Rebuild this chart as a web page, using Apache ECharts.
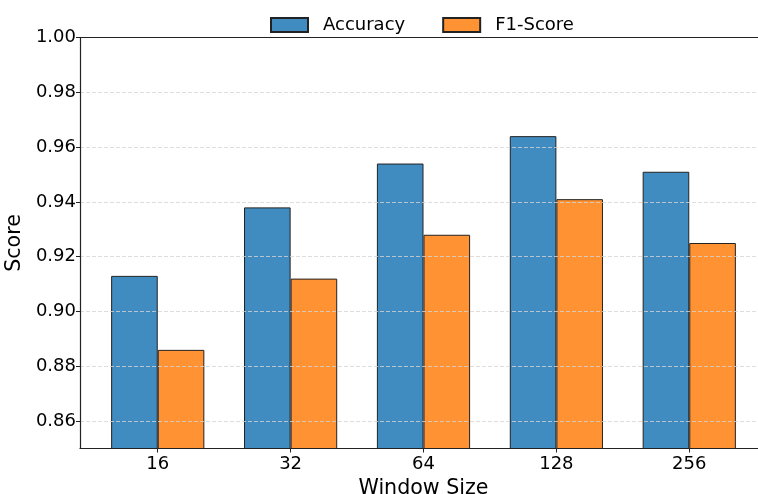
<!DOCTYPE html>
<html>
<head>
<meta charset="utf-8">
<script src="https://cdn.jsdelivr.net/npm/echarts@6/dist/echarts.min.js"></script>
<style>
  html, body { margin: 0; padding: 0; background: #fff; }
  #chart { width: 758px; height: 494px; }
</style>
</head>
<body>
<div id="chart"></div>
<script>
// window sizes on the x axis
const windowSizes = ['16', '32', '64', '128', '256']
const accuracy = [0.913, 0.938, 0.954, 0.964, 0.951]
const f1Score = [0.886, 0.912, 0.928, 0.941, 0.925]
const yTicks = [0.86, 0.88, 0.90, 0.92, 0.94, 0.96, 0.98, 1.00]
const xTicks = [0, 1, 2, 3, 4]

const font = 'DejaVu Sans'
const chart = echarts.init(document.getElementById('chart'), null, { renderer: 'canvas' })

const toPairs = arr => arr.map((v, i) => [i, v])

chart.setOption({
  backgroundColor: '#fff',
  animation: false,
  legend: {
    top: 11,
    left: 265,
    icon: 'rect',
    itemWidth: 37,
    itemHeight: 14,
    itemGap: 37,
    textStyle: { fontFamily: font, fontSize: 18, color: '#000', padding: [0, 0, 0, 10] },
    data: ['Accuracy', 'F1-Score']
  },
  grid: {
    left: 80,
    top: 37.5,
    width: 687,
    height: 411,
    outerBoundsMode: 'none',
    containLabel: false,
    show: false
  },
  xAxis: [
    {
      type: 'value',
      min: -0.585,
      max: 4.585,
      name: 'Window Size',
      nameLocation: 'middle',
      nameGap: 25,
      nameTextStyle: { fontFamily: font, fontSize: 20.6, color: '#000' },
      axisLine: { show: true, onZero: false, lineStyle: { color: '#222', width: 1.2 } },
      axisTick: { show: true, length: 4, customValues: xTicks, lineStyle: { color: '#222' } },
      axisLabel: {
        customValues: xTicks,
        margin: 7,
        fontFamily: font,
        fontSize: 18,
        color: '#000',
        formatter: v => windowSizes[Math.round(v)]
      },
      splitLine: { show: false }
    },
    {
      // top spine only
      type: 'value',
      position: 'top',
      min: -0.585,
      max: 4.585,
      z: 6,
      axisLine: { show: true, onZero: false, lineStyle: { color: '#222', width: 1.2 } },
      axisTick: { show: false },
      axisLabel: { show: false },
      splitLine: { show: false }
    }
  ],
  yAxis: {
    type: 'value',
    min: 0.85,
    max: 1.0,
    z: 5,
    name: 'Score',
    nameLocation: 'middle',
    nameGap: 53,
    nameTextStyle: { fontFamily: font, fontSize: 20.6, color: '#000' },
    axisLine: { show: true, onZero: false, lineStyle: { color: '#222', width: 1.2 } },
    axisTick: { show: true, length: 4, customValues: yTicks, lineStyle: { color: '#222' } },
    axisLabel: {
      customValues: yTicks,
      margin: 4,
      fontFamily: font,
      fontSize: 18,
      color: '#000',
      formatter: v => v.toFixed(2)
    },
    splitLine: { show: true, lineStyle: { color: '#d4d4d4', type: [4, 2], width: 0.8 } }
  },
  series: [
    {
      name: 'Accuracy',
      type: 'bar',
      barWidth: 46.6,
      barGap: '0%',
      itemStyle: { color: '#408bbf', borderColor: '#222', borderWidth: 1 },
      data: toPairs(accuracy)
    },
    {
      name: 'F1-Score',
      type: 'bar',
      barWidth: 46.6,
      barGap: '0%',
      itemStyle: { color: '#ff9232', borderColor: '#222', borderWidth: 1 },
      data: toPairs(f1Score)
    }
  ]
})
</script>
</body>
</html>
